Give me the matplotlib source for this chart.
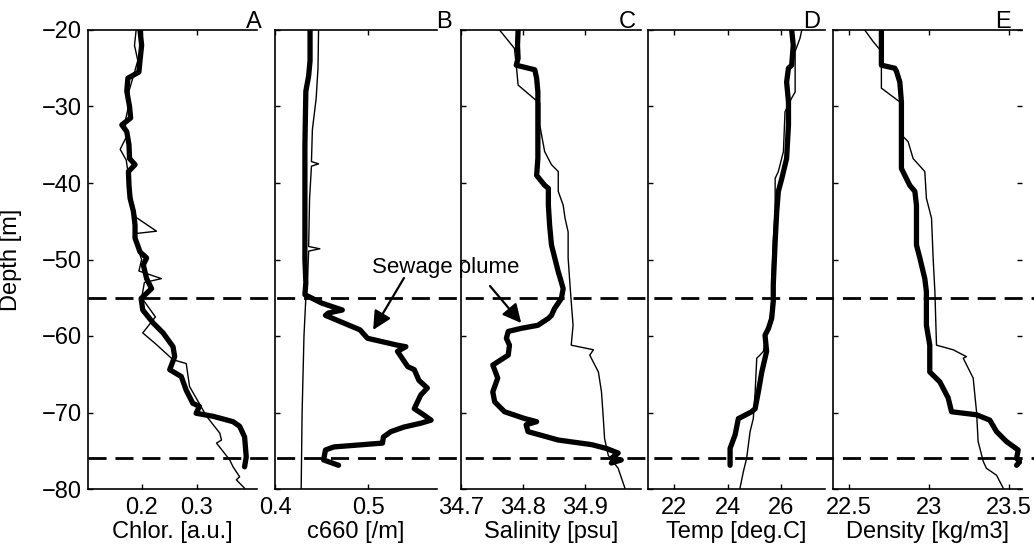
import matplotlib
matplotlib.use('Agg')
import matplotlib.pyplot as plt
from matplotlib.lines import Line2D
from matplotlib.transforms import blended_transform_factory

plt.rcParams['font.family'] = ['Liberation Sans', 'DejaVu Sans']
plt.rcParams['font.size'] = 17

# ---- profiles (depth [m], value) ----
# A: chlorophyll
chl_thick_d = [-20, -22, -24, -25.5, -26.3, -28, -30, -31.5, -32.4, -33.3, -35, -36.8, -37.6, -38.5,
               -40.3, -42, -43.7, -45.5, -47.2, -49, -49.8, -50.7, -52.5, -53.8, -55.1, -56.6, -58.3,
               -59.6, -61.4, -62.7, -64.4, -65.3, -67.1, -68.8, -69.2, -70.1, -70.5, -71.2, -71.8,
               -73.2, -75.8, -77.1]
chl_thick = [0.197, 0.200, 0.197, 0.195, 0.175, 0.173, 0.178, 0.180, 0.164, 0.173, 0.177, 0.178, 0.188,
             0.176, 0.177, 0.179, 0.185, 0.188, 0.188, 0.197, 0.209, 0.203, 0.209, 0.218, 0.199, 0.202,
             0.221, 0.239, 0.257, 0.260, 0.251, 0.272, 0.281, 0.293, 0.305, 0.299, 0.330, 0.366, 0.378,
             0.387, 0.390, 0.387]
chl_thin_d = [-20, -22, -24, -26, -28, -30, -32, -34, -35.6, -37, -40, -43, -44.5, -46.3, -46.6, -48,
              -50, -51.5, -52.5, -53, -55, -56.5, -57.5, -59.6, -61, -63.1, -63.6, -66.6, -70.5, -72.7,
              -73.6, -74.0, -76.2, -77.1, -78.4, -78.8, -79.9]
chl_thin = [0.190, 0.187, 0.193, 0.185, 0.177, 0.176, 0.170, 0.172, 0.161, 0.172, 0.178, 0.184, 0.190,
            0.227, 0.190, 0.190, 0.200, 0.195, 0.236, 0.205, 0.200, 0.215, 0.225, 0.202, 0.225, 0.257,
            0.281, 0.287, 0.318, 0.342, 0.345, 0.336, 0.360, 0.366, 0.378, 0.372, 0.387]

# B: beam attenuation c660
c660_thick_d = [-20, -24, -26, -28, -35, -45, -50, -53, -54.6, -55.7, -56.6, -57.0, -57.3, -59.2, -60.3,
                -61.2, -61.4, -62.0, -64.0, -64.4, -65.8, -66.8, -67.7, -69.5, -70.3, -71.0, -71.4,
                -71.9, -72.5, -73.2, -74.0, -74.5, -74.9, -76.2, -76.9]
c660_thick = [0.4375, 0.4375, 0.436, 0.433, 0.432, 0.432, 0.432, 0.433, 0.432, 0.450, 0.472, 0.457,
              0.454, 0.491, 0.499, 0.531, 0.540, 0.531, 0.542, 0.549, 0.554, 0.563, 0.556, 0.549, 0.559,
              0.567, 0.556, 0.538, 0.524, 0.516, 0.515, 0.463, 0.454, 0.452, 0.468]
c660_thin_d = [-20, -25, -29, -33, -37.2, -37.5, -37.8, -42, -48.3, -48.6, -48.9, -52, -55, -60, -65,
               -70, -75, -80]
c660_thin = [0.4466, 0.446, 0.444, 0.440, 0.439, 0.4466, 0.439, 0.437, 0.436, 0.448, 0.436, 0.435,
             0.433, 0.431, 0.430, 0.429, 0.4285, 0.428]

# C: salinity
sal_thick_d = [-20, -22, -23.7, -24.6, -25.2, -26.3, -28.1, -32.4, -36.8, -39, -40.3, -40.7, -42.9,
               -45.5, -48.1, -51.6, -53.8, -55.1, -56.4, -57.3, -57.7, -58.6, -59, -59.4, -60.3, -61.2,
               -62.5, -63.8, -65.5, -67.3, -68.6, -69.9, -70.8, -71.2, -71.6, -72.5, -73.6, -74.2,
               -74.7, -75.3, -76, -76.2, -76.6]
sal_thick = [34.792, 34.791, 34.792, 34.789, 34.819, 34.822, 34.824, 34.824, 34.824, 34.822, 34.835,
             34.841, 34.841, 34.843, 34.846, 34.857, 34.865, 34.862, 34.851, 34.846, 34.841, 34.824,
             34.797, 34.776, 34.773, 34.778, 34.776, 34.751, 34.759, 34.751, 34.754, 34.770, 34.803,
             34.822, 34.805, 34.808, 34.857, 34.911, 34.935, 34.954, 34.943, 34.959, 34.943]
sal_thin_d = [-20, -22.4, -24.6, -27.2, -29.6, -32.4, -35.9, -37.6, -38.5, -41.1, -42.9, -44.6, -46.4,
              -49.8, -53.3, -55.5, -58.6, -61.2, -61.8, -62.5, -64.7, -67.3, -70.8, -73.4, -75.6,
              -77.3, -79.9]
sal_thin = [34.762, 34.786, 34.789, 34.792, 34.827, 34.827, 34.835, 34.846, 34.857, 34.857, 34.865,
            34.868, 34.873, 34.873, 34.876, 34.878, 34.881, 34.878, 34.914, 34.908, 34.922, 34.927,
            34.930, 34.932, 34.938, 34.954, 34.965]

# D: temperature
tmp_thick_d = [-20, -22, -24.6, -25, -26.8, -29.4, -32.4, -36.8, -39.4, -41.1, -43.7, -47.7, -53.3,
               -55.5, -57.7, -59, -59.9, -62, -64.7, -67.3, -69.5, -69.9, -70.8, -72.9, -74.7, -76.9]
tmp_thick = [26.40, 26.46, 26.40, 26.28, 26.21, 26.28, 26.28, 26.21, 26.03, 25.90, 25.84, 25.78, 25.71,
             25.71, 25.65, 25.53, 25.40, 25.46, 25.28, 25.15, 25.03, 24.90, 24.40, 24.28, 24.09, 24.09]
tmp_thin_d = [-20, -21.1, -22.8, -28.1, -28.9, -30.7, -35.9, -38.5, -39.4, -43.7, -47.7, -53.3, -55.5,
              -57.7, -59.4, -62, -62.5, -62.9, -67.3, -70.8, -72.5, -76, -77.7, -79.9]
tmp_thin = [26.78, 26.71, 26.53, 26.53, 26.40, 26.15, 26.09, 25.90, 25.78, 25.78, 25.71, 25.65, 25.65,
            25.59, 25.46, 25.34, 25.21, 25.09, 25.03, 24.96, 24.84, 24.71, 24.59, 24.46]

# E: density
den_thick_d = [-20, -23.7, -24.6, -25, -25.4, -26.8, -29.4, -32.4, -38.1, -40.3, -41.1, -42.9, -48.1,
               -49.8, -52.5, -54.2, -58.6, -61.2, -62.9, -64.7, -66, -68.1, -69.9, -70.3, -71, -72.5,
               -73.8, -74.9, -76, -76.4, -76.9]
den_thick = [22.704, 22.704, 22.704, 22.788, 22.798, 22.819, 22.829, 22.829, 22.829, 22.881, 22.913,
             22.923, 22.923, 22.944, 22.975, 22.985, 22.985, 23.006, 23.006, 23.006, 23.069, 23.121,
             23.142, 23.298, 23.381, 23.423, 23.485, 23.558, 23.548, 23.569, 23.548]
den_thin_d = [-20, -21.5, -22.8, -27.6, -29.4, -30, -33.7, -34.6, -36.8, -38.5, -42, -44.6, -49.8,
              -54.2, -61.2, -61.8, -62.7, -62.9, -65.5, -69.9, -73.8, -76.4, -77.3, -78.2, -79.9]
den_thin = [22.600, 22.652, 22.704, 22.704, 22.819, 22.829, 22.829, 22.871, 22.902, 22.975, 22.985,
            23.017, 23.027, 23.038, 23.048, 23.152, 23.235, 23.215, 23.277, 23.298, 23.308, 23.340,
            23.360, 23.423, 23.465]

plume_depths = [-55, -76]

xlabels = ['Chlor. [a.u.]', 'c660 [/m]', 'Salinity [psu]', 'Temp [deg.C]', 'Density [kg/m3]']
letters = ['A', 'B', 'C', 'D', 'E']
xticks = [[0.2, 0.3], [0.4, 0.5], [34.7, 34.8, 34.9], [22, 24, 26], [22.5, 23, 23.5]]
xticklabels = [['0.2', '0.3'], ['0.4', '0.5'], ['34.7', '34.8', '34.9'], ['22', '24', '26'],
               ['22.5', '23', '23.5']]
xlims = [(0.102, 0.409), (0.4, 0.573), (34.70, 34.991), (21.0, 27.65), (22.4, 23.58)]
profiles = [(chl_thick_d, chl_thick, chl_thin_d, chl_thin),
            (c660_thick_d, c660_thick, c660_thin_d, c660_thin),
            (sal_thick_d, sal_thick, sal_thin_d, sal_thin),
            (tmp_thick_d, tmp_thick, tmp_thin_d, tmp_thin),
            (den_thick_d, den_thick, den_thin_d, den_thin)]

# ---- layout (pixels) ----
W, H = 1034, 557
spans = [(87.7, 256.7), (275, 436.7), (461.3, 641), (647.7, 825), (832.7, 1021.7)]
top_px, bot_px = 30, 489
letter_x = [254, 444, 627, 812, 1003]

fig = plt.figure(figsize=(W / 100, H / 100), dpi=100)
axes = []
for i, (x0, x1) in enumerate(spans):
    ax = fig.add_axes([x0 / W, (H - bot_px) / H, (x1 - x0) / W, (bot_px - top_px) / H])
    thick_d, thick_v, thin_d, thin_v = profiles[i]
    ax.plot(thin_v, thin_d, color='k', lw=1.0)
    ax.plot(thick_v, thick_d, color='k', lw=3.8, solid_joinstyle='round', solid_capstyle='round')
    ax.set_xlim(*xlims[i])
    ax.set_ylim(-80, -20)
    ax.set_xticks(xticks[i])
    ax.set_xticklabels(xticklabels[i])
    ax.set_yticks(range(-80, -19, 10))
    ax.tick_params(direction='in', length=3.5, width=1, top=True, right=(i == 4),
                   labelsize=17)
    ax.tick_params(axis='x', pad=6)
    ax.tick_params(axis='y', pad=4)
    if i > 0:
        ax.tick_params(labelleft=False)
    ax.spines['right'].set_visible(False)
    for s in ['left', 'bottom', 'top']:
        ax.spines[s].set_linewidth(1.2)
    ax.set_xlabel(xlabels[i], labelpad=1)
    fig.text(letter_x[i] / W, (H - 28) / H, letters[i], ha='center', va='baseline', fontsize=17)
    axes.append(ax)

axes[0].set_ylabel('Depth [m]')
axes[0].yaxis.set_label_coords(-0.39, 0.5)

# dashed plume boundaries across all panels
tr = blended_transform_factory(fig.transFigure, axes[0].transData)
for d in plume_depths:
    fig.add_artist(Line2D([spans[0][0] / W, 1.0], [d, d], transform=tr, color='k', lw=2,
                          dashes=(6.5, 3.2)))

# annotation
fig.text(445.7 / W, 284 / H, 'Sewage plume', ha='center', va='baseline', fontsize=16)
arrow = dict(arrowstyle='-|>', color='k', lw=1.6, mutation_scale=28, shrinkA=0, shrinkB=0)
axes[1].annotate('', xy=(0.505, -59.2), xycoords='data', xytext=(404 / W, 279 / H),
                 textcoords='figure fraction', arrowprops=arrow, annotation_clip=False)
axes[2].annotate('', xy=(34.797, -58.3), xycoords='data', xytext=(490 / W, 271 / H),
                 textcoords='figure fraction', arrowprops=arrow, annotation_clip=False)

fig.savefig('out.png', dpi=100, facecolor='white')
